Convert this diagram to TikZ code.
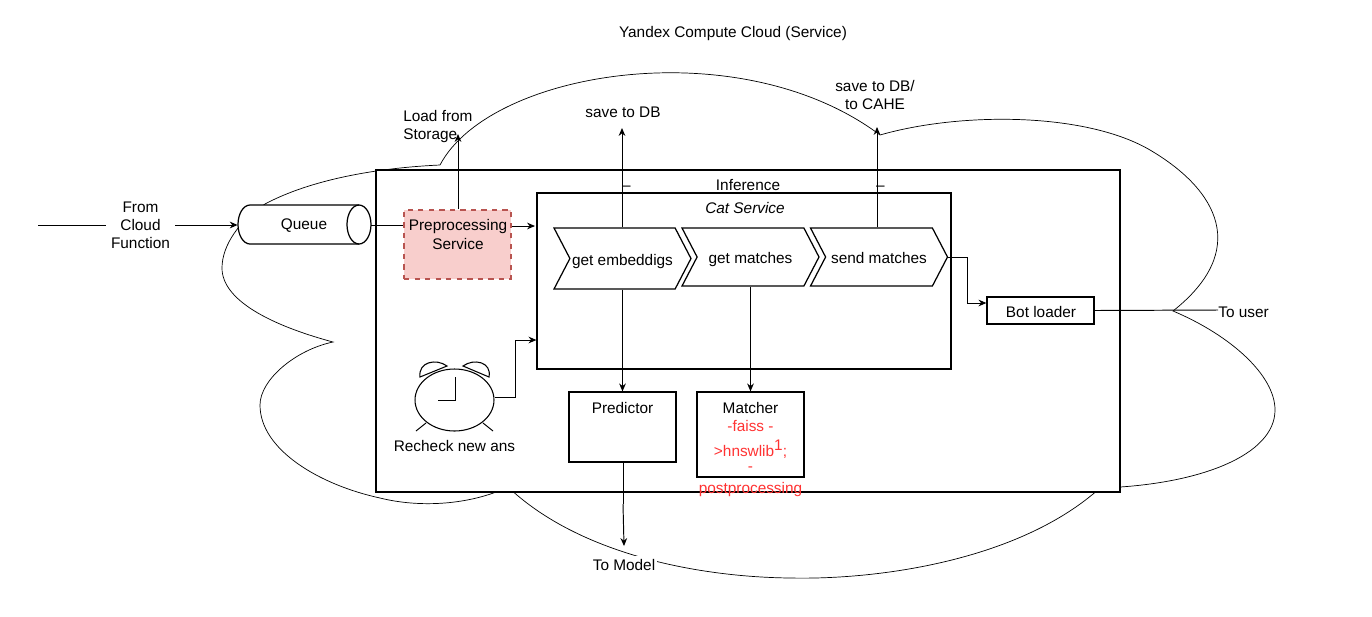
\documentclass[tikz,border=0pt]{standalone}
\usepackage{fontspec}
\setmainfont{Liberation Sans}
\usetikzlibrary{arrows.meta,shapes.geometric,shapes.symbols}
\definecolor{Ink}{HTML}{000000}
\definecolor{Blush}{HTML}{F8CECC}
\definecolor{Brick}{HTML}{B85450}
\definecolor{Alert}{HTML}{FF3333}

\begin{document}
\begin{tikzpicture}[x=0.02cm,y=-0.02cm,every node/.style={font=\fontsize{8.75pt}{10.3pt}\selectfont,text=Ink,inner sep=0pt},
cloud/.style={draw=Ink,line width=0.4pt},
frame/.style={draw=Ink,line width=0.7pt,fill=white},
conn/.style={draw=Ink,line width=0.55pt,-{Stealth[length=4.5pt,width=3.8pt]}},
plain/.style={draw=Ink,line width=0.55pt},
chev/.style={frame,signal,signal to=east,signal from=west,signal pointer angle=125,minimum height=1.16cm,minimum width=2.74cm,text height=7.4pt,text depth=0pt}]
\useasboundingbox (0,0) rectangle (1372,616);

% cloud behind everything
\draw[cloud] (440,165) .. controls (490,70) and (740,30) .. (880,135)
 .. controls (960,112) and (1085,112) .. (1150,150)
 .. controls (1218,190) and (1250,250) .. (1173,311)
 .. controls (1230,335) and (1275,375) .. (1275,410)
 .. controls (1275,455) and (1200,485) .. (1100,488)
 .. controls (1020,560) and (880,580) .. (790,578)
 .. controls (700,577) and (580,555) .. (508,487)
 .. controls (470,505) and (420,508) .. (380,498)
 .. controls (320,485) and (260,450) .. (260,405)
 .. controls (260,380) and (295,350) .. (333,342)
 .. controls (270,325) and (222,300) .. (222,268)
 .. controls (222,245) and (240,220) .. (265,204)
 .. controls (310,180) and (375,168) .. (440,165);

\node (title) at (733,34) {Yandex Compute Cloud (Service)};

% boxes
\node[frame,minimum width=14.88cm,minimum height=6.44cm] (inference) at (748,331) {};
\node (inferencetxt) at (748,185) {Inference};
\node[frame,minimum width=8.28cm,minimum height=3.52cm] (catservice) at (744,281) {};
\node[font=\fontsize{8.75pt}{10.3pt}\selectfont\itshape] (cattxt) at (745,208) {Cat Service};
\node[draw=Brick,fill=Blush,dashed,line width=0.6pt,minimum width=2.14cm,minimum height=1.38cm] (prep) at (457.5,244.5) {};
\node[align=center,anchor=north] (preptxt) at (458,219.5) {Preprocessing\\Service};

% queue
\node[minimum width=2.66cm,minimum height=0.78cm] (queue) at (304.5,224.5) {};
\draw[frame] (250,205) -- (359,205) .. controls (365.6,205) and (371,213.8) .. (371,224.5)
 .. controls (371,235.2) and (365.6,244) .. (359,244) -- (250,244)
 .. controls (243.4,244) and (238,235.2) .. (238,224.5)
 .. controls (238,213.8) and (243.4,205) .. (250,205) -- cycle;
\draw[frame,fill=none] (359,205) .. controls (352.4,205) and (347,213.8) .. (347,224.5)
 .. controls (347,235.2) and (352.4,244) .. (359,244);
\node (queuetxt) at (304,226) {Queue};

\node[chev,minimum height=1.22cm] (embed) at (622.5,258.5) {get embeddigs};
\node[chev] (matches) at (750.5,257) {get matches};
\node[chev] (send) at (879,257) {send matches};

\node[frame,minimum width=2.14cm,minimum height=1.4cm] (predictor) at (622.5,427) {};
\node (predtxt) at (622.5,408) {Predictor};
\node[frame,minimum width=2.14cm,minimum height=1.7cm] (matcher) at (750.5,434.5) {};
\node (matchtxt) at (750.5,408) {Matcher};
\node[text=Alert] (faiss) at (750.5,426) {-faiss -};
\node[text=Alert] (hnsw) at (750.5,449) {>hnswlib\raisebox{3.5pt}{1};};
\node[text=Alert] (dash) at (750.5,469) {-};
\node[text=Alert] (post) at (750.5,490) {postprocessing};
\node[frame,minimum width=2.14cm,minimum height=0.54cm] (bot) at (1040.5,310.5) {};
\node (bottxt) at (1041,312) {Bot loader};

% alarm clock
\draw[frame,line width=0.6pt] (420,377) .. controls (418,362) and (436,358) .. (447,366) -- cycle;
\draw[frame,line width=0.6pt] (463,366) .. controls (474,358) and (492,362) .. (489,377) -- cycle;
\draw[plain] (416,431) -- (426,423) (493,431) -- (483,423);
\node[frame,ellipse,line width=0.6pt,minimum width=1.58cm,minimum height=1.24cm] (clock) at (454.5,400) {};
\draw[plain] (455,377) -- (455,400) -- (438,400);
\node (clocktxt) at (454.5,446) {Recheck new ans};

% free ends
\coordinate (start) at (38,225);
\coordinate (storage) at (458,134);
\coordinate (savedb) at (622,128);
\coordinate (savecahe) at (877,127);
\coordinate (touser) at (1218,310);
\coordinate (model) at (624,546);
\coordinate (predout) at (623,504);

% connectors
\draw[conn] (start) -- (queue.west |- start);
\draw[plain] (queue.east |- 0,225) -- (prep.west |- 0,225);
\draw[conn] (prep.east |- 0,226) -- (535,226);
\draw[conn] (storage |- prep.north) -- (storage);
\draw[conn] (savedb |- embed.north) -- (savedb);
\draw[conn] (savecahe |- send.north) -- (savecahe);
\draw[conn] (send.east) -- (967,257) -- (967,303) -- (bot.west |- 0,303);
\draw[plain] (bot.east) -- (touser);
\draw[conn] (embed.south -| predictor.north) -- (predictor.north);
\draw[conn] (matches.south -| matcher.north) -- (matcher.north);
\draw[plain] (predout |- predictor.south) -- (predout);
\draw[conn] (predout) -- (model);
\draw[conn] (clock.east |- 0,397) -- (515.5,397) -- (515.5,340) -- (catservice.west |- 0,340);

% labels
\node[fill=white,align=center,inner xsep=3pt] (from) at (140.5,225) {From\\Cloud\\Function};
\node[align=left,anchor=west] (loadtxt) at (403,126.5) {Load from\\Storage};
\node (dbtxt) at (623,112) {save to DB};
\node[align=center] (cahetxt) at (875,95) {save to DB/\\to CAHE};
\node[anchor=west] (usertxt) at (1218,312) {To user};
\node[fill=white,inner xsep=1pt,inner ysep=2pt] (modeltxt) at (624,565) {To Model};
\node (tick1) at (626.5,188) {–};
\node (tick2) at (880.5,188) {–};
\end{tikzpicture}
\end{document}
